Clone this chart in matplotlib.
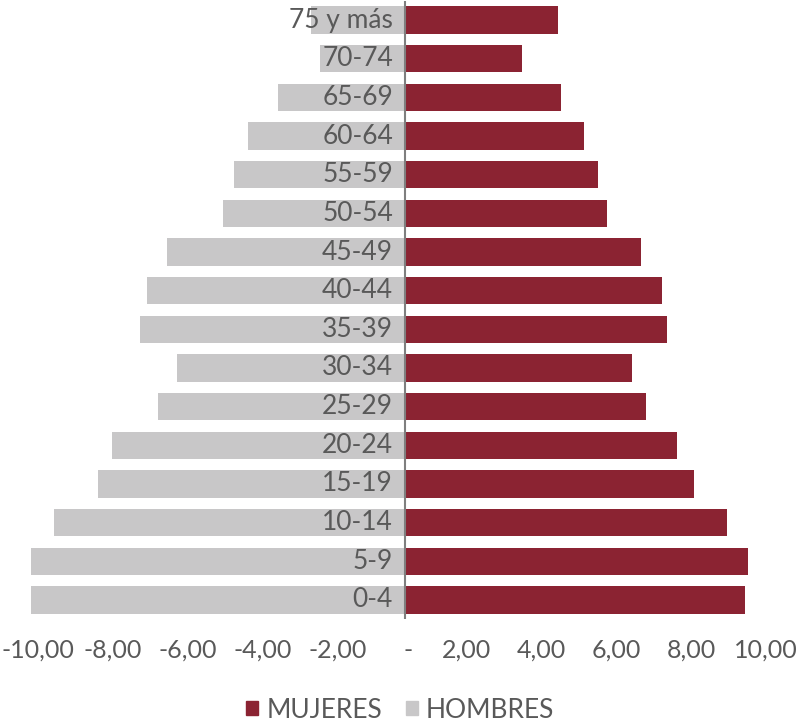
import matplotlib
matplotlib.use("Agg")
import matplotlib.pyplot as plt
from matplotlib.patches import Patch
from matplotlib import font_manager
from matplotlib.transforms import ScaledTranslation

categories = ["0-4", "5-9", "10-14", "15-19", "20-24", "25-29", "30-34", "35-39",
              "40-44", "45-49", "50-54", "55-59", "60-64", "65-69", "70-74", "75 y más"]
mujeres = [9.07, 9.15, 8.59, 7.71, 7.25, 6.43, 6.05, 6.99,
           6.85, 6.29, 5.39, 5.15, 4.77, 4.16, 3.12, 4.08]
hombres = [-9.97, -9.97, -9.36, -8.19, -7.81, -6.59, -6.08, -7.07,
           -6.88, -6.35, -4.85, -4.56, -4.19, -3.39, -2.27, -2.51]
ticks = [-10, -8, -6, -4, -2, 0, 2, 4, 6, 8, 10]
tick_labels = ["-10,00", "-8,00", "-6,00", "-4,00", "-2,00", "-",
               "2,00", "4,00", "6,00", "8,00", "10,00"]

RED = "#8B2332"
GREY = "#C8C7C8"
TXT = "#595959"

names = {f.name for f in font_manager.fontManager.ttflist}
main_font = "Lato" if "Lato" in names else "DejaVu Sans"
narrow = "Liberation Sans Narrow" if "Liberation Sans Narrow" in names else main_font

fig = plt.figure(figsize=(8.05, 7.28), dpi=100)
ax = fig.add_axes([30/805, 1 - 619.3/728, 750/805, 618.6/728])

y = list(range(len(categories)))
ax.barh(y, mujeres, height=0.71, color=RED, label="MUJERES")
ax.barh(y, hombres, height=0.71, color=GREY, label="HOMBRES")

ax.set_xlim(-10, 10)
ax.set_ylim(-0.5, len(categories) - 0.5)

for yi, c in zip(y, categories):
    ax.text(-0.32, yi, c, ha="right", va="center", fontsize=19,
            color=TXT, family=main_font)

ax.axvline(0, color="#7F7F7F", lw=1.5)

for s in ax.spines.values():
    s.set_visible(False)
ax.set_yticks([])
ax.set_xticks(ticks)
ax.set_xticklabels(tick_labels, fontsize=18, color=TXT, family=main_font)
ax.tick_params(axis="x", length=0, pad=14)

for t, lab in zip(ticks, ax.get_xticklabels()):
    if t < 0:
        dx = 8
    elif t > 0:
        dx = -14
    else:
        dx = 3
    lab.set_transform(lab.get_transform() + ScaledTranslation(dx/100, 0, fig.dpi_scale_trans))

handles = [Patch(color=RED), Patch(color=GREY)]
fig.legend(handles, ["MUJERES", "HOMBRES"], loc="center", bbox_to_anchor=(0.497, 1 - 710/728),
           ncol=2, frameon=False, handlelength=0.45, handleheight=0.45, handletextpad=0.3,
           columnspacing=0.9, prop={"family": narrow, "size": 19}, labelcolor=TXT)

fig.savefig("out.png", dpi=100)
